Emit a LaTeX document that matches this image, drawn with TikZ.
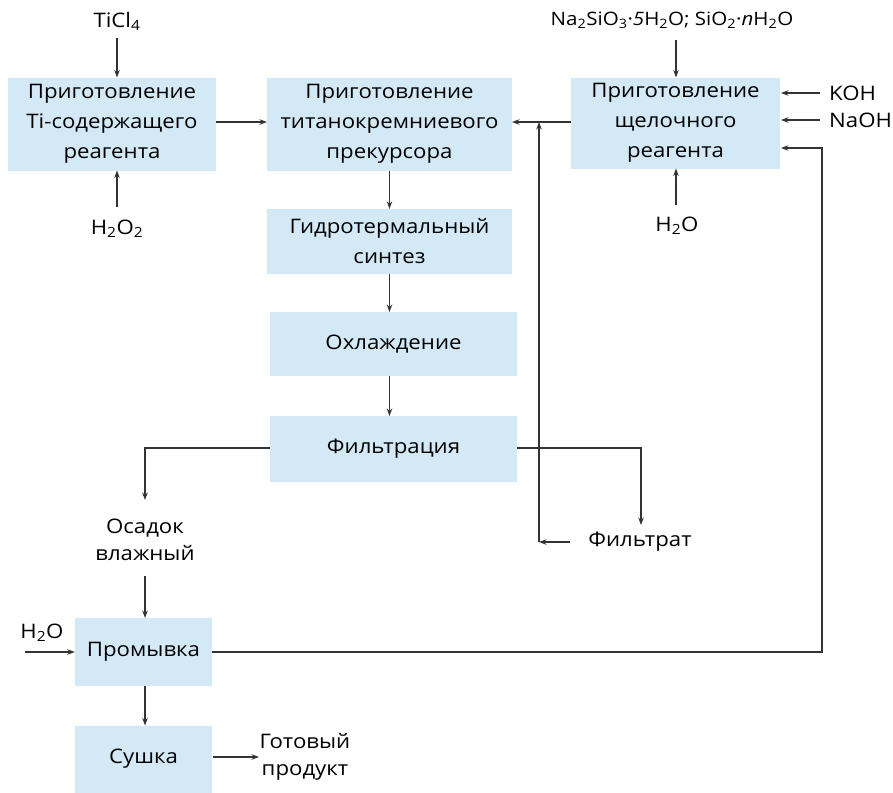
\documentclass[tikz,border=0pt]{standalone}
\usepackage{fontspec}
\setmainfont{Open Sans}[FakeStretch=1.11]
\usetikzlibrary{arrows.meta}
\definecolor{boxblue}{HTML}{D3E9F6}
\definecolor{linegray}{HTML}{333333}
\tikzset{
  proc/.style={fill=boxblue, inner sep=0pt, align=center, font=\fontsize{20}{30}\selectfont, text=black},
  lbl/.style={inner sep=0pt, align=center, font=\fontsize{20}{27}\selectfont, text=black},
  conn/.style={draw=linegray, line width=1.1pt, -{Stealth[length=7.5pt,width=5.5pt]}}
}
\begin{document}
\begin{tikzpicture}[x=1pt,y=-1pt]
\useasboundingbox (0,0) rectangle (893,792);
% boxes
\node[proc, minimum width=208pt, minimum height=93pt] (b1) at (112,124) {Приготовление\\Ti-содержащего\\реагента};
\node[proc, minimum width=245pt, minimum height=93pt] (b2) at (389.5,124) {Приготовление\\титанокремниевого\\прекурсора};
\node[proc, minimum width=209pt, minimum height=91pt] (b3) at (675.5,123) {Приготовление\\щелочного\\реагента};
\node[proc, minimum width=245pt, minimum height=65pt] (b4) at (389.5,241.5) {Гидротермальный\\синтез};
\node[proc, minimum width=247pt, minimum height=64pt] (b5) at (393.5,344) {Охлаждение};
\node[proc, minimum width=247pt, minimum height=66pt] (b6) at (393.5,449) {Фильтрация};
\node[proc, minimum width=137pt, minimum height=68pt] (b7) at (143.5,652) {Промывка};
\node[proc, minimum width=137pt, minimum height=67pt] (b8) at (143.5,759) {Сушка};
% labels
\node[lbl] (ticl) at (117,21) {TiCl\textsubscript{4}};
\node[lbl] (h2o2) at (117,229) {H\textsubscript{2}O\textsubscript{2}};
\node[lbl, font=\fontsize{18.5}{24}\selectfont] (na) at (672,20) {Na\textsubscript{2}SiO\textsubscript{3}·\textit{5}H\textsubscript{2}O; SiO\textsubscript{2}·\textit{n}H\textsubscript{2}O};
\node[lbl, anchor=west] (koh) at (829,93) {KOH};
\node[lbl, anchor=west] (naoh) at (829,120) {NaOH};
\node[lbl] (h2ob) at (677,226) {H\textsubscript{2}O};
\node[lbl] (fil) at (640,542) {Фильтрат};
\node[lbl] (osad) at (145,540) {Осадок\\влажный};
\node[lbl] (h2oc) at (42,633) {H\textsubscript{2}O};
\node[lbl] (prod) at (305,757) {Готовый\\продукт};
% coordinates
\coordinate (j) at (539,122);
\coordinate (fl) at (539,542);
\coordinate (h2ostart) at (25,652);
% connectors
\draw[conn] (117,38) -- (117,77.5);
\draw[conn] (117,207) -- (117,170.5);
\draw[conn] (216,122) -- (267,122);
\draw[conn] (676,40) -- (676,77.5);
\draw[conn] (676,205) -- (676,168.5);
\draw[conn] (820,93) -- (781,93);
\draw[conn] (820,120) -- (781,120);
\draw[conn] (571,122) -- (512,122);
\draw[conn] (fl) -- (j);
\draw[conn] (570,542) -- (fl);
\draw[conn] (b2.south) -- (b4.north);
\draw[conn] (b4.south) -- (389.5,312);
\draw[conn] (389.5,376) -- (389.5,416);
\draw[conn] (517,448) -- (641,448) -- (641,525);
\draw[conn] (270,448) -- (145,448) -- (145,500);
\draw[conn] (145,576) -- (145,618);
\draw[conn] (h2ostart) -- (b7.west);
\draw[conn] (b7.east) -- (822,652) -- (822,148) -- (781,148);
\draw[conn] (145,686) -- (145,725.5);
\draw[conn] (213,757) -- (259,757);
\end{tikzpicture}
\end{document}
